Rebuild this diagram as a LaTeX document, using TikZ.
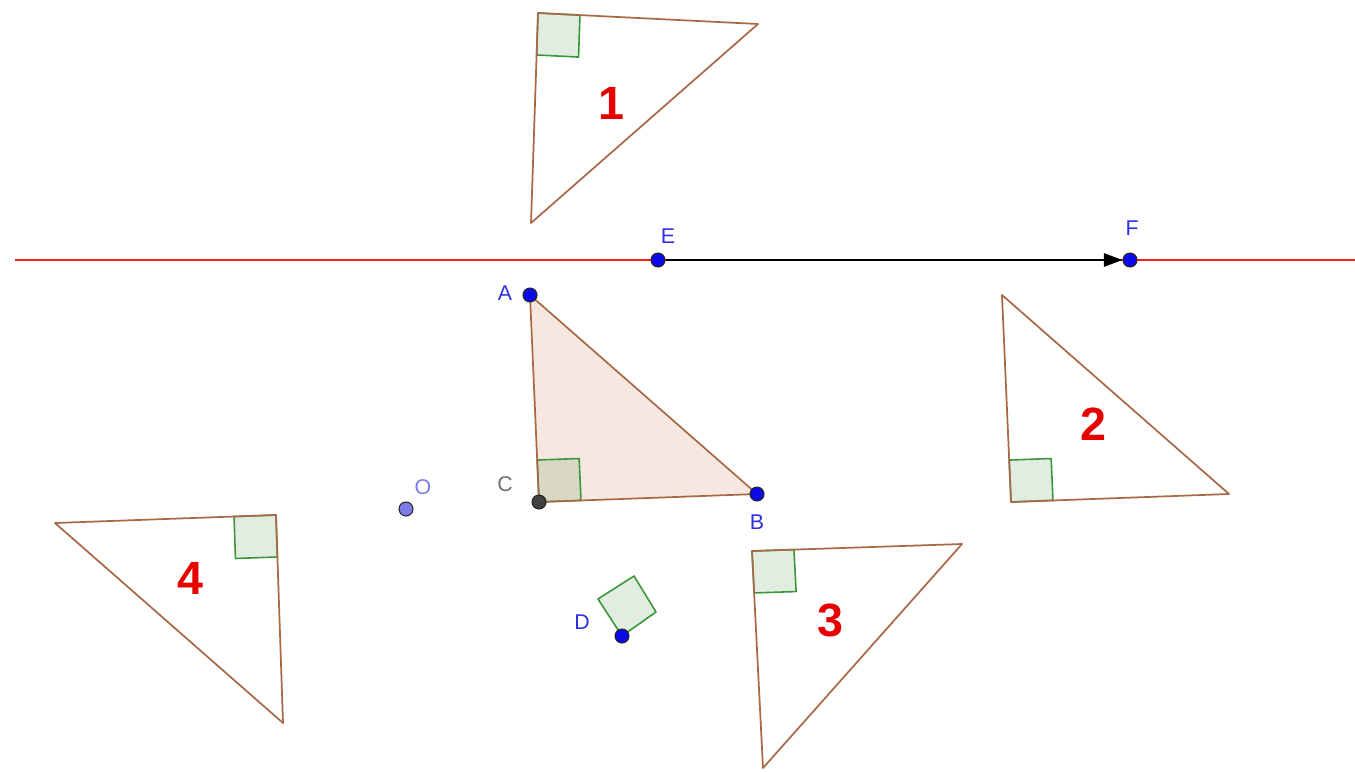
\documentclass[tikz,border=0pt]{standalone}
\usepackage{fontspec}
\setmainfont{Liberation Sans}
\usetikzlibrary{arrows.meta,calc}
\definecolor{ggbRed}{HTML}{F52020}
\definecolor{ggbBrown}{HTML}{A86A46}
\definecolor{ggbGreen}{HTML}{3C963C}
\definecolor{ggbShade}{HTML}{006E00}
\definecolor{ggbPink}{HTML}{F6E7E0}
\definecolor{ggbBlue}{HTML}{0A0AE6}
\definecolor{ggbText}{HTML}{3030E0}
\definecolor{ggbGray}{HTML}{707070}
\definecolor{ggbViolet}{HTML}{7C7CE8}
\definecolor{ggbNum}{HTML}{E60000}
\tikzset{
  ggb mirror/.style={draw=ggbRed, line width=1.7pt},
  ggb vector/.style={draw=black, line width=1.5pt, -{Triangle[length=14pt,width=10pt]}},
  ggb edge/.style={draw=ggbBrown, line width=1.3pt, line join=round},
  ggb right/.style={draw=ggbGreen, line width=1.2pt, fill=ggbShade, fill opacity=0.12, line join=round},
  ggb point/.style={circle, draw=black!85, fill=ggbBlue, line width=0.8pt, minimum size=10.5pt, inner sep=0pt},
  ggb label/.style={font=\fontsize{16}{16}\selectfont, text=ggbText},
  ggb number/.style={font=\fontsize{35}{35}\selectfont\bfseries, text=ggbNum},
}
% right angle mark at #1 between legs to #2 and #3
\newcommand{\ggbangle}[3]{%
  \filldraw[ggb right] (#1) -- ($(#1)!31.5pt!(#2)$)
    -- ($(#1)!31.5pt!(#2)+(#1)!31.5pt!(#3)-(#1)$) -- ($(#1)!31.5pt!(#3)$) -- cycle;}

\begin{document}
\begin{tikzpicture}[x=0.75pt,y=-0.75pt]
  \useasboundingbox (0,0) rectangle (1355,771);
  % mirror line and vector EF
  \coordinate (lineL) at (15,260);
  \coordinate (lineR) at (1355,260);
  \draw[ggb mirror] (lineL) -- (lineR);
  \node[ggb point] (E) at (658,260) {};
  \node[ggb point] (F) at (1130,260) {};
  \draw[ggb vector] (E) -- (F);
  \node[ggb label] (labE) at (668,236) {E};
  \node[ggb label] (labF) at (1132,228) {F};
  % triangle ABC
  \coordinate (a) at (530,295);
  \coordinate (b) at (757,494);
  \coordinate (c) at (539,502);
  \fill[ggbPink] (a) -- (b) -- (c) -- cycle;
  \ggbangle{c}{a}{b}
  \draw[ggb edge] (a) -- (b) -- (c) -- cycle;
  \node[ggb point] (A) at (a) {};
  \node[ggb point] (B) at (b) {};
  \node[ggb point, fill=black!75] (C) at (c) {};
  \node[ggb label] (labA) at (505,293) {A};
  \node[ggb label] (labB) at (757,522) {B};
  \node[ggb label, text=ggbGray] (labC) at (505,484) {C};
  % the four images
  \coordinate (t1c) at (538,13);   \coordinate (t1a) at (531,223); \coordinate (t1b) at (758,24);
  \coordinate (t2c) at (1011,502); \coordinate (t2a) at (1002,295); \coordinate (t2b) at (1229,494);
  \coordinate (t3c) at (752,551);  \coordinate (t3a) at (763,768); \coordinate (t3b) at (962,544);
  \coordinate (t4c) at (276,515);  \coordinate (t4a) at (283,723); \coordinate (t4b) at (55,523);
  \foreach \t in {1,2,3,4} {
    \ggbangle{t\t c}{t\t a}{t\t b}
    \draw[ggb edge] (t\t a) -- (t\t b) -- (t\t c) -- cycle;
  }
  \foreach \t/\lx/\ly in {1/611/103, 2/1093/424, 3/830/620, 4/190/578}
    \node[ggb number] (num\t) at (\lx,\ly) {\t};
  % centre O
  \node[ggb point, fill=ggbViolet] (O) at (406,509) {};
  \node[ggb label, text=ggbViolet] (labO) at (423,487) {O};
  % rotated angle mark at D
  \coordinate (d1) at (598,599);
  \coordinate (d2) at (634,576);
  \coordinate (d3) at (656,612);
  \filldraw[ggb right] (d1) -- (d2) -- (d3) -- (622,636) -- cycle;
  \node[ggb point] (D) at (622,636) {};
  \node[ggb label] (labD) at (582,622) {D};
\end{tikzpicture}
\end{document}
